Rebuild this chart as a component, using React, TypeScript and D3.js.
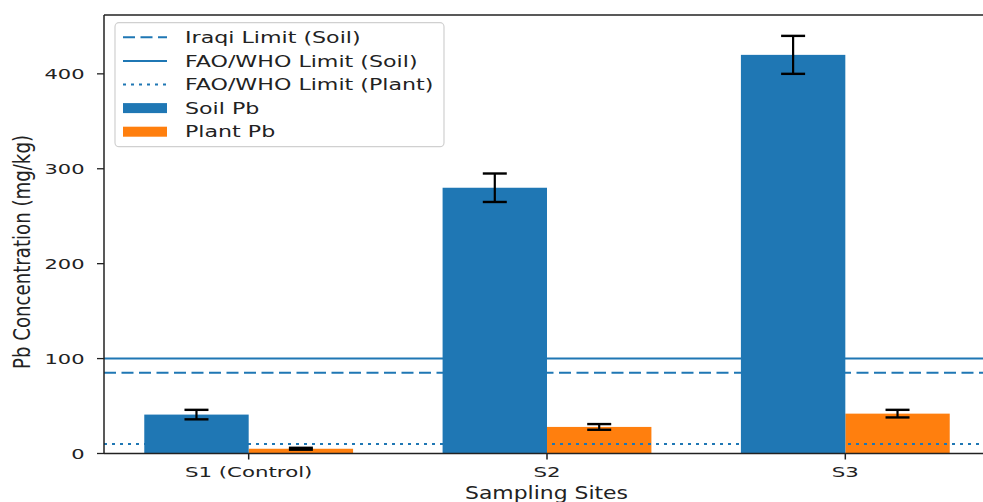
import React from 'react';
import * as d3 from 'd3';

// values
const sites = ['S1 (Control)', 'S2', 'S3'];
const soilPb = [41, 280, 420];
const soilErr = [5, 15, 20];
const plantPb = [5, 28, 42];
const plantErr = [1, 3, 4];
const yTicks = [0, 100, 200, 300, 400];
const limitLabels = ['Iraqi Limit (Soil)', 'FAO/WHO Limit (Soil)', 'FAO/WHO Limit (Plant)'];
const limitValues = [85, 100, 10];
const seriesLabels = ['Soil Pb', 'Plant Pb'];

const W = 983;
const H = 502;
const BLUE = '#1f77b4';
const ORANGE = '#ff7f0e';
const INK = '#222';
const FONT = 'DejaVu Sans';
const SX = 1.47; // the picture is stretched sideways
const BAR_W = 0.35;
const limitDash = ['12,5.5', 'none', '3,5'];

function SText(props: {
  x: number; y: number; size: number; anchor?: string; rotate?: boolean;
  sx?: number; length?: number; children: React.ReactNode;
}) {
  const { x, y, size, anchor = 'start', rotate = false, sx = SX, length } = props;
  return (
    <text
      transform={`translate(${x},${y}) scale(${sx},1)${rotate ? ' rotate(-90)' : ''}`}
      textAnchor={anchor}
      fontSize={size}
      fontFamily={FONT}
      fill={INK}
      textLength={length}
      lengthAdjust={length ? 'spacingAndGlyphs' : undefined}
    >
      {props.children}
    </text>
  );
}

export default function App() {
  const x = d3.scaleLinear().domain([-0.485, 2.485]).range([104, 990]);
  const y = d3.scaleLinear().domain([0, 462]).range([453.5, 15]);
  const left = x(-0.485);
  const right = W;
  const bottom = y(0);
  const top = y(462);

  const errBar = (i: number, cx: number, v: number, e: number) => (
    <g key={`e${i}-${cx}`} stroke="black">
      <line x1={cx} x2={cx} y1={y(v - e)} y2={y(v + e)} strokeWidth={2.2} />
      <line x1={cx - 12} x2={cx + 12} y1={y(v - e)} y2={y(v - e)} strokeWidth={2.4} />
      <line x1={cx - 12} x2={cx + 12} y1={y(v + e)} y2={y(v + e)} strokeWidth={2.4} />
    </g>
  );

  // legend rows
  const legX = 115;
  const legY = 22.7;
  const row = (i: number) => 37.3 + i * 23.6;
  const legendItems = [...limitLabels, ...seriesLabels];

  return (
    <svg width={W} height={H} style={{ position: 'absolute', left: 0, top: 0, background: 'white' }}>
      {/* plant bars sit under the limit lines */}
      {plantPb.map((v, i) => (
        <rect key={`p${i}`} x={x(i)} y={y(v)} width={x(i + BAR_W) - x(i)} height={bottom - y(v)} fill={ORANGE} />
      ))}

      {limitValues.map((v, i) => (
        <line key={`l${i}`} x1={left} x2={right} y1={y(v)} y2={y(v)} stroke={BLUE}
          strokeWidth={2} strokeDasharray={limitDash[i] === 'none' ? undefined : limitDash[i]} />
      ))}

      {soilPb.map((v, i) => (
        <rect key={`s${i}`} x={x(i - BAR_W)} y={y(v)} width={x(i) - x(i - BAR_W)} height={bottom - y(v)} fill={BLUE} />
      ))}

      {soilPb.map((v, i) => errBar(i, x(i - BAR_W / 2), v, soilErr[i]))}
      {plantPb.map((v, i) => errBar(i, x(i + BAR_W / 2), v, plantErr[i]))}

      {/* spines */}
      <g stroke={INK} strokeWidth={1.5} fill="none">
        <line x1={left} x2={left} y1={top} y2={bottom} />
        <line x1={left} x2={right} y1={bottom} y2={bottom} />
        <line x1={left} x2={right} y1={top} y2={top} />
      </g>

      {/* y axis */}
      {yTicks.map((t) => (
        <g key={`yt${t}`}>
          <line x1={left - 7} x2={left} y1={y(t)} y2={y(t)} stroke={INK} strokeWidth={1.3} />
          <SText x={84.5} y={y(t) + 5.2} size={14.3} anchor="end">{t}</SText>
        </g>
      ))}
      <SText x={30} y={252} size={15.5} anchor="middle" rotate length={234}>
        Pb Concentration (mg/kg)
      </SText>

      {/* x axis */}
      {sites.map((s, i) => (
        <g key={`xt${i}`}>
          <line x1={x(i)} x2={x(i)} y1={bottom} y2={bottom + 6} stroke={INK} strokeWidth={1.5} />
          <SText x={x(i)} y={477} size={14.5} anchor="middle">{s}</SText>
        </g>
      ))}
      <SText x={546.5} y={499} size={17.3} anchor="middle" sx={1} length={163}>Sampling Sites</SText>

      {/* legend */}
      <rect x={legX} y={legY} width={444 - legX} height={146.7 - legY} rx={4}
        fill="white" fillOpacity={0.8} stroke="#d0d0d0" strokeWidth={1.2} />
      {legendItems.map((label, i) => (
        <g key={`lg${i}`}>
          {i < limitLabels.length ? (
            <line x1={123} x2={167} y1={row(i)} y2={row(i)} stroke={BLUE} strokeWidth={2}
              strokeDasharray={limitDash[i] === 'none' ? undefined : limitDash[i]} />
          ) : (
            <rect x={123} y={row(i) - 5} width={44} height={10}
              fill={i === limitLabels.length ? BLUE : ORANGE} />
          )}
          <SText x={185} y={row(i) + 5.7} size={15.5} sx={1.43}>{label}</SText>
        </g>
      ))}
    </svg>
  );
}
